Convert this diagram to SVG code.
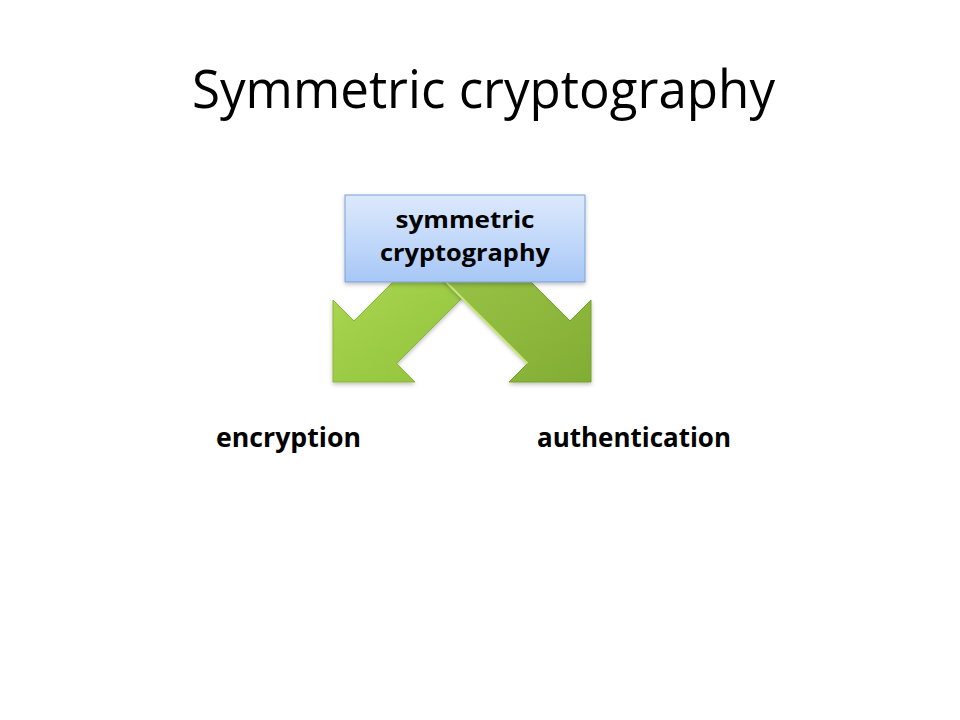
<svg xmlns="http://www.w3.org/2000/svg" width="960" height="720" viewBox="0 0 960 720">
  <defs>
    <linearGradient id="gLeft" x1="0" y1="0" x2="1" y2="1">
      <stop offset="0" stop-color="#b0da55"/>
      <stop offset="0.5" stop-color="#9ccb45"/>
      <stop offset="1" stop-color="#8fbf3a"/>
    </linearGradient>
    <linearGradient id="gRight" x1="0" y1="0" x2="1" y2="1">
      <stop offset="0" stop-color="#9cc64a"/>
      <stop offset="0.6" stop-color="#8db83c"/>
      <stop offset="1" stop-color="#82ad34"/>
    </linearGradient>
    <linearGradient id="gBox" x1="0" y1="0" x2="0" y2="1">
      <stop offset="0" stop-color="#dce9fc"/>
      <stop offset="0.5" stop-color="#c3d9fa"/>
      <stop offset="1" stop-color="#a6c7f6"/>
    </linearGradient>
    <filter id="shadow" x="-10%" y="-10%" width="120%" height="130%">
      <feDropShadow dx="0" dy="2" stdDeviation="2" flood-color="#000" flood-opacity="0.25"/>
    </filter>
  </defs>
  <style>
    .title { font-family: "Open Sans", "Liberation Sans", sans-serif; font-size: 53px; fill: #000; }
    .lbl { font-family: "Open Sans", "Liberation Sans", sans-serif; font-weight: bold; font-size: 26px; fill: #000; }
    .box { font-family: "Open Sans", "Liberation Sans", sans-serif; font-weight: bold; font-size: 24px; fill: #000; }
    .arrow { stroke-width: 1; stroke-linejoin: miter; }
  </style>
  <rect width="960" height="720" fill="#ffffff"/>
  <text class="title" x="192" y="108" textLength="583" lengthAdjust="spacingAndGlyphs">Symmetric cryptography</text>

  <g id="connectors">
    <polygon id="arrow-left" class="arrow" fill="url(#gLeft)" stroke="#8ab53a" points="333,382 333,300 354,321 420,255 505,255 396.5,363.5 415,382" filter="url(#shadow)"/>
    <polygon id="arrow-right" class="arrow" fill="url(#gRight)" stroke="#76a02e" points="591,382 591,300 570,321 504,255 419,255 527.5,363.5 509,382" filter="url(#shadow)"/>
    <polyline points="446,282 462,298 527.5,363.5" fill="none" stroke="#c8e57e" stroke-width="2"/>
  </g>

  <g id="node-symmetric">
    <rect x="345" y="195" width="240" height="87" fill="url(#gBox)" stroke="#7f9fd6" stroke-width="1" filter="url(#shadow)"/>
    <text class="box" x="465" y="228" text-anchor="middle" textLength="139" lengthAdjust="spacingAndGlyphs">symmetric</text>
    <text class="box" x="465" y="261" text-anchor="middle" textLength="170" lengthAdjust="spacingAndGlyphs">cryptography</text>
  </g>

  <g id="node-encryption">
    <text class="lbl" x="216" y="447" textLength="145" lengthAdjust="spacingAndGlyphs">encryption</text>
  </g>
  <g id="node-authentication">
    <text class="lbl" x="537" y="447" textLength="194" lengthAdjust="spacingAndGlyphs">authentication</text>
  </g>
</svg>
